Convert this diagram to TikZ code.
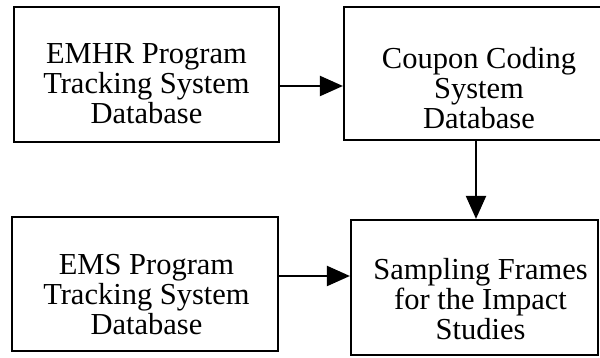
\documentclass[tikz,border=0pt]{standalone}
\usepackage{fontspec}
\setmainfont{Liberation Serif}
\usetikzlibrary{arrows.meta}
\begin{document}
\begin{tikzpicture}[x=1pt,y=1pt,
  box/.style={draw, line width=2.2pt, inner sep=0pt},
  txt/.style={align=center, inner sep=0pt, font=\fontsize{30.5}{30}\selectfont},
  arr/.style={line width=2.2pt, -{Triangle[length=23pt,width=20pt]}}]
\useasboundingbox (0,0) rectangle (600,358);
\node[box, minimum width=265pt, minimum height=135pt] (A) at (146.5,283.5) {};
\node[box, minimum width=261pt, minimum height=133pt] (B) at (474.5,284.5) {};
\node[box, minimum width=266pt, minimum height=134pt] (C) at (145,74) {};
\node[box, minimum width=247pt, minimum height=135pt] (D) at (474.5,70.5) {};
\node[txt] (At) at (146.5,274.5) {EMHR Program\\Tracking System\\Database};
\node[txt] (Bt) at (479,270) {Coupon Coding\\System\\Database};
\node[txt] (Ct) at (146.5,63.5) {EMS Program\\Tracking System\\Database};
\node[txt] (Dt) at (480.5,59) {Sampling Frames\\for the Impact\\Studies};
\draw[arr] ([yshift=-11.5pt]A.east) -- ([yshift=-11.5pt]A.east -| B.west);
\draw[arr] ([xshift=1.5pt]B.south) -- ([xshift=1.5pt]B.south |- D.north);
\draw[arr] ([yshift=8pt]C.east) -- ([yshift=8pt]C.east -| D.west);
\end{tikzpicture}
\end{document}
